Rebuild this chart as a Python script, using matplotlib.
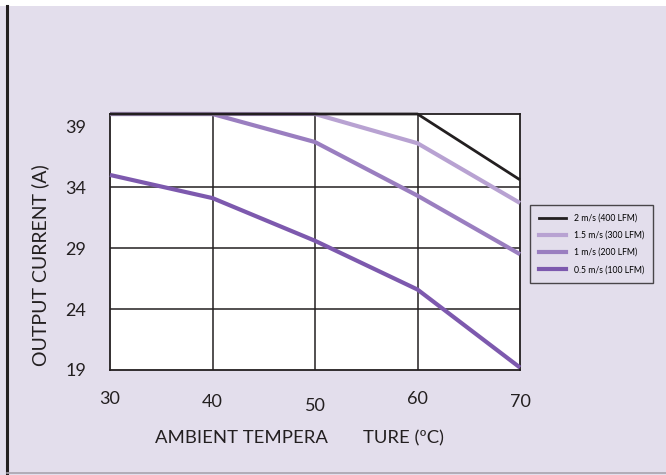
import matplotlib.pyplot as plt
from matplotlib.lines import Line2D

# data
temps = [30, 40, 50, 60, 70]
cur_2ms = [40, 40, 40, 40, 34.6]
cur_15ms = [40, 40, 40, 37.6, 32.7]
cur_1ms = [40, 40, 37.7, 33.3, 28.5]
cur_05ms = [35.0, 33.1, 29.6, 25.6, 19.2]
labels = ['2 m/s (400 LFM)', '1.5 m/s (300 LFM)', '1 m/s (200 LFM)', '0.5 m/s (100 LFM)']
colors = ['#231f20', '#b8a2d2', '#9a7ec0', '#7d59ae']
yticks = [19, 24, 29, 34, 39]
xticks = [30, 40, 50, 60, 70]
xtick_dy = [0, -2, -5, 0, -2]   # labels sit a bit uneven in the original

bg = '#e3deec'
fnt = 'Lato'

fig = plt.figure(figsize=(6.66, 4.75), dpi=100, facecolor='white')
# lavender panel
fig.patches.append(plt.Rectangle((0.0, 0.0), 1, 0.987, transform=fig.transFigure,
                                 facecolor=bg, edgecolor='none', zorder=-2))
fig.add_artist(Line2D([0.011, 0.011], [0.0, 0.987], color='#231f20', lw=2.2))
fig.add_artist(Line2D([0.011, 1.0], [0.004, 0.004], color='#a9a4ae', lw=1.2))

ax = fig.add_axes([110/666, 1-370/475, 410/666, 256/475])
ax.set_facecolor('white')
ax.set_xlim(30, 70)
ax.set_ylim(19, 40)

for x in [40, 50, 60]:
    ax.axvline(x, color='#231f20', lw=1.1, zorder=1)
for y in [24, 29, 34]:
    ax.axhline(y, color='#231f20', lw=1.1, zorder=1)

series = [cur_2ms, cur_15ms, cur_1ms, cur_05ms]
for i in [3, 2, 1, 0]:
    ax.plot(temps, series[i], color=colors[i], lw=2.0 if i == 0 else 3.0,
            zorder=3, clip_on=False, solid_capstyle='butt')

for s in ax.spines.values():
    s.set_color('#231f20')
    s.set_linewidth(1.3)

ax.set_xticks(xticks)
ax.set_yticks(yticks)
ax.tick_params(length=0, labelsize=13, colors='#231f20')
ax.tick_params(axis='y', pad=17)
ax.set_xticklabels([])
for x, dy in zip(xticks, xtick_dy):
    ax.annotate(str(x), (x, 19), xytext=(0, -21 + dy), textcoords='offset points',
                ha='center', va='center', fontsize=13, color='#231f20', family=fnt,
                annotation_clip=False)
for lab in ax.get_yticklabels():
    lab.set_family(fnt)

fig.text(40/666, 1-265/475, 'OUTPUT CURRENT (A)', rotation=90, ha='center', va='center',
         fontsize=14, color='#231f20', family=fnt)
fig.text(155/666, 1-438/475, 'AMBIENT TEMPERA', ha='left', va='center',
         fontsize=13.3, color='#231f20', family=fnt)
fig.text(363/666, 1-438/475, 'TURE (\u00baC)', ha='left', va='center',
         fontsize=13.3, color='#231f20', family=fnt)

handles = [Line2D([], [], color=c, lw=2.0 if i == 0 else 3.0) for i, c in enumerate(colors)]
leg = fig.legend(handles, labels, loc='upper left', bbox_to_anchor=(530/666, 1-205/475),
                 frameon=True, fancybox=False, handlelength=3.2,
                 handletextpad=0.9, labelspacing=0.95, borderpad=1.0, borderaxespad=0,
                 prop={'family': 'Lato', 'size': 6.2})
leg.get_frame().set_facecolor(bg)
leg.get_frame().set_edgecolor('#231f20')
leg.get_frame().set_linewidth(1.0)

fig.savefig('out.png', dpi=100, facecolor=fig.get_facecolor())
